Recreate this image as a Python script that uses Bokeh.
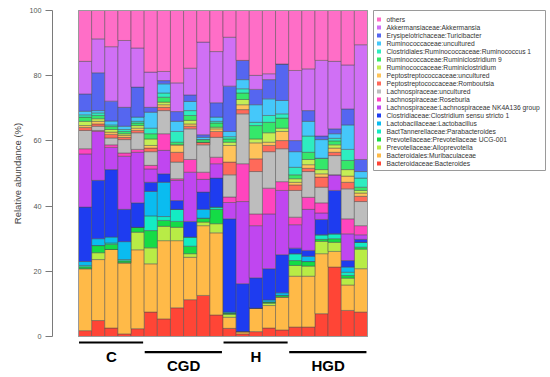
import math
from bokeh.plotting import figure
from bokeh.models import ColumnDataSource, Range1d, FixedTicker
from bokeh.core.properties import value
from bokeh.embed import file_html
from bokeh.resources import INLINE

# ---------------- data ----------------
samples = ["C1", "C2", "C3", "C4", "C5",
           "CGD1", "CGD2", "CGD3", "CGD4", "CGD5", "CGD6",
           "H1", "H2", "H3", "H4", "H5",
           "HGD1", "HGD2", "HGD3", "HGD4", "HGD5", "HGD6"]
groups = ["C", "CGD", "H", "HGD"]
group_sizes = [5, 6, 5, 6]

# stacking order: bottom -> top
taxa = [
    "Bacteroidaceae:Bacteroides",
    "Bacteroidales:Muribaculaceae",
    "Prevotellaceae:Alloprevotella",
    "Prevotellaceae:Prevotellaceae UCG-001",
    "BactTannerellaceae:Parabacteroides",
    "Lactobacillaceae:Lactobacillus",
    "Clostridiaceae:Clostridium sensu stricto 1",
    "Lachnospiraceae:Lachnospiraceae NK4A136 group",
    "Lachnospiraceae:Roseburia",
    "Lachnospiraceae:uncultured",
    "Peptostreptococcaceae:Romboutsia",
    "Peptostreptococcaceae:uncultured",
    "Ruminococcaceae:Ruminiclostridium",
    "Ruminococcaceae:Ruminiclostridium 9",
    "Clostridiales:Ruminococcaceae:Ruminococcus 1",
    "Ruminococcaceae:uncultured",
    "Erysipelotrichaceae:Turicibacter",
    "Akkermansiaceae:Akkermansia",
    "others",
]

bacteroides     = [1.8, 4.9, 2.6, 0.8, 2.4, 7.5, 5.4, 8.8, 11.3, 12.6, 6.6, 2.5, 0.8, 1.5, 2.6, 2.0, 2.9, 2.9, 7.0, 21.3, 8.0, 7.5]
muribaculaceae  = [19.0, 18.7, 24.1, 21.8, 24.2, 14.8, 24.0, 20.6, 13.0, 21.4, 25.2, 3.4, 0.7, 7.2, 6.9, 10.1, 15.6, 15.6, 18.4, 4.8, 7.8, 13.3]
alloprevotella  = [0.0, 2.1, 0.0, 0.0, 5.4, 4.9, 4.4, 4.1, 1.1, 1.1, 2.8, 0.9, 0.0, 0.0, 0.7, 0.0, 3.3, 3.1, 3.8, 2.8, 2.1, 6.0]
prevotella_ucg  = [0.6, 2.2, 1.6, 0.6, 1.5, 5.3, 1.8, 1.8, 2.3, 1.2, 4.4, 0.4, 0.0, 0.0, 0.4, 0.5, 1.5, 1.4, 0.6, 1.1, 0.8, 0.6]
parabacteroides = [0.4, 0.0, 0.4, 0.4, 0.0, 4.5, 1.2, 3.7, 2.8, 0.0, 0.7, 0.0, 0.0, 0.0, 0.0, 0.0, 2.1, 0.0, 1.4, 1.5, 1.0, 1.5]
lactobacillus   = [1.2, 2.1, 1.8, 5.5, 0.0, 7.5, 10.5, 0.0, 0.0, 2.7, 0.0, 0.3, 0.0, 0.0, 0.6, 0.8, 0.0, 1.6, 0.0, 0.0, 1.6, 0.0]
clostridium     = [16.7, 17.9, 20.7, 9.9, 7.5, 2.8, 2.6, 2.7, 4.8, 5.3, 8.9, 28.6, 14.7, 9.3, 9.6, 11.7, 1.7, 1.8, 4.7, 13.3, 2.0, 0.9]
nk4a136         = [16.3, 15.0, 6.8, 16.3, 15.5, 4.1, 7.2, 6.2, 15.1, 3.9, 4.4, 5.0, 25.2, 16.0, 16.8, 19.7, 7.2, 12.6, 2.0, 4.8, 8.2, 1.4]
roseburia       = [1.6, 0.3, 0.8, 1.0, 0.9, 1.1, 5.1, 0.5, 3.9, 2.2, 2.0, 1.7, 11.6, 3.6, 7.9, 2.7, 2.3, 3.7, 3.1, 0.0, 4.6, 2.8]
lachno_unc      = [5.6, 1.3, 2.1, 4.1, 5.1, 4.2, 7.1, 5.1, 9.4, 8.4, 6.1, 6.8, 15.3, 13.0, 11.2, 10.1, 8.2, 7.9, 4.8, 5.9, 9.2, 7.4]
romboutsia      = [0.9, 0.7, 1.1, 0.7, 0.7, 1.1, 1.0, 3.0, 0.8, 0.8, 1.8, 3.9, 1.3, 3.9, 1.9, 2.5, 1.7, 1.0, 3.1, 1.0, 2.0, 1.6]
pepto_unc       = [0.6, 0.8, 0.7, 0.6, 0.7, 0.8, 0.8, 2.3, 0.7, 0.0, 0.8, 5.1, 1.5, 4.9, 1.0, 2.8, 0.8, 1.1, 1.0, 1.3, 1.9, 1.0]
ruminiclost     = [1.3, 0.8, 0.8, 0.5, 0.8, 2.0, 0.8, 0.0, 1.1, 0.0, 0.5, 1.0, 1.6, 1.2, 2.9, 1.0, 1.1, 1.6, 1.3, 1.0, 2.0, 0.8]
ruminiclost9    = [1.3, 1.0, 0.9, 0.7, 0.8, 1.6, 1.5, 0.8, 1.5, 0.8, 1.3, 1.0, 2.0, 4.1, 3.2, 3.1, 1.2, 2.2, 3.5, 1.2, 2.8, 1.0]
ruminococcus1   = [0.7, 0.8, 0.5, 0.6, 0.5, 1.7, 1.3, 3.3, 1.5, 0.0, 0.5, 0.7, 1.3, 1.0, 2.1, 1.3, 2.3, 5.0, 0.0, 0.8, 3.4, 2.8]
rumino_unc      = [1.1, 0.7, 1.2, 1.0, 1.3, 4.9, 2.8, 3.1, 2.8, 0.7, 1.3, 1.6, 2.8, 5.4, 5.1, 4.1, 4.8, 4.5, 5.7, 1.4, 7.5, 2.0]
turicibacter    = [5.3, 11.6, 6.1, 5.8, 9.2, 1.5, 1.0, 3.0, 2.0, 0.8, 4.4, 13.9, 5.9, 4.7, 5.9, 11.2, 3.4, 3.3, 1.1, 1.5, 4.9, 3.7]
akkermansia     = [10.0, 10.4, 16.7, 20.5, 12.0, 10.8, 2.8, 8.8, 8.2, 28.4, 15.7, 15.0, 0.0, 4.3, 1.8, 0.0, 21.5, 12.8, 23.2, 20.7, 13.5, 35.2]
others          = [15.6, 8.7, 11.1, 9.2, 11.5, 18.9, 18.7, 22.2, 17.7, 9.7, 12.6, 8.2, 15.3, 19.9, 19.4, 16.4, 18.4, 17.9, 15.3, 15.6, 16.7, 10.5]

series = [bacteroides, muribaculaceae, alloprevotella, prevotella_ucg, parabacteroides,
          lactobacillus, clostridium, nk4a136, roseburia, lachno_unc, romboutsia,
          pepto_unc, ruminiclost, ruminiclost9, ruminococcus1, rumino_unc,
          turicibacter, akkermansia, others]

colors = ["#FF4536", "#FFBA48", "#B8EC46", "#14DC46", "#14EBC3", "#0ABCF0",
          "#1E3CF0", "#C046F0", "#FF45BE", "#BDBDBD", "#FF6A5A", "#FFC45A",
          "#C5EE55", "#35E86A", "#2EEDC0", "#45C8FA", "#5566F0", "#D070F5",
          "#FF6EC7"]

y_ticks = [0, 20, 40, 60, 80, 100]
y_title = "Relative abundance (%)"

# ---------------- layout helpers (page pixels -> data units) ----------------
W, H = 550, 377
AXIS_PAGE_X = 52
BAR_PX = 289.0 / len(samples)
PCT_PX = 3.26
BARS_LEFT_PAGE = 78.0
ZERO_PAGE = 336.0


def ux(px):
    return (px - BARS_LEFT_PAGE) / BAR_PX


def uy(py):
    return (ZERO_PAGE - py) / PCT_PX


x_range = Range1d(ux(0), ux(W))
y_range = Range1d(uy(H), uy(0))

p = figure(width=W, height=H, x_range=x_range, y_range=y_range,
           output_backend="svg", toolbar_location=None, x_axis_location=None,
           min_border_left=0, min_border_right=0, min_border_top=0,
           min_border_bottom=0)
p.outline_line_color = None
p.grid.visible = False
p.background_fill_color = "white"

data = {"x": [i + 0.5 for i in range(len(samples))]}
for name, vals in zip(taxa, series):
    data[name] = vals
source = ColumnDataSource(data)

p.vbar_stack(taxa, x="x", width=1.0, color=colors, source=source,
             line_color="#4a4a4a", line_width=0.6, line_alpha=0.75)

# plot box
p.quad(left=[0], right=[len(samples)], bottom=[0], top=[100],
       fill_alpha=0, line_color="#9a9a9a", line_width=1)

# y axis (R style, detached from the bars)
ax = p.yaxis[0]
ax.fixed_location = ux(AXIS_PAGE_X)
ax.bounds = (0, 100)
ax.ticker = FixedTicker(ticks=y_ticks)
ax.minor_tick_line_color = None
ax.major_tick_out = 7
ax.major_tick_in = 0
ax.major_label_standoff = 4
ax.axis_line_color = "#7a7a7a"
ax.major_tick_line_color = "#7a7a7a"
ax.major_label_text_font = "Liberation Sans"
ax.major_label_text_font_size = "7.2px"
ax.major_label_text_color = "#555555"

p.text(x=[ux(17)], y=[50], text=[y_title], angle=math.pi / 2,
       text_font=value("Liberation Sans"), text_font_size="9.5px",
       text_align="center", text_baseline="middle", text_color="#444444")

# group lines and labels
starts = []
s = 0
for n in group_sizes:
    starts.append(s)
    s += n
line_y = [uy(342), uy(351.7)]
label_y = [uy(355.5), uy(365)]
gx0 = [st + 0.04 for st in starts]
gx1 = [st + n - 0.08 for st, n in zip(starts, group_sizes)]
gy = [line_y[i % 2] for i in range(len(groups))]
p.segment(x0=gx0, x1=gx1, y0=gy, y1=gy, line_color="black", line_width=2.2)
p.text(x=[st + n / 2 for st, n in zip(starts, group_sizes)],
       y=[label_y[i % 2] for i in range(len(groups))], text=groups,
       text_font=value("Liberation Sans"), text_font_style="bold",
       text_font_size="15px", text_align="center", text_baseline="middle",
       text_color="black")

# legend (manual, R-style)
p.quad(left=[ux(373)], right=[ux(545)], top=[uy(10)], bottom=[uy(170)],
       fill_color="white", line_color="#9a9a9a", line_width=1)
leg_names = list(reversed(taxa))
leg_colors = list(reversed(colors))
leg_y = [uy(19 + 8 * k) for k in range(len(leg_names))]
p.scatter(x=[ux(378.5)] * len(leg_names), y=leg_y, marker="square", size=4,
          fill_color=leg_colors, line_color=None)
p.text(x=[ux(386)] * len(leg_names), y=leg_y, text=leg_names,
       text_font=value("Liberation Sans"), text_font_size="6.7px",
       text_baseline="middle", text_align="left", text_color="#333333")

open("out.html", "w").write(file_html(p, INLINE))
